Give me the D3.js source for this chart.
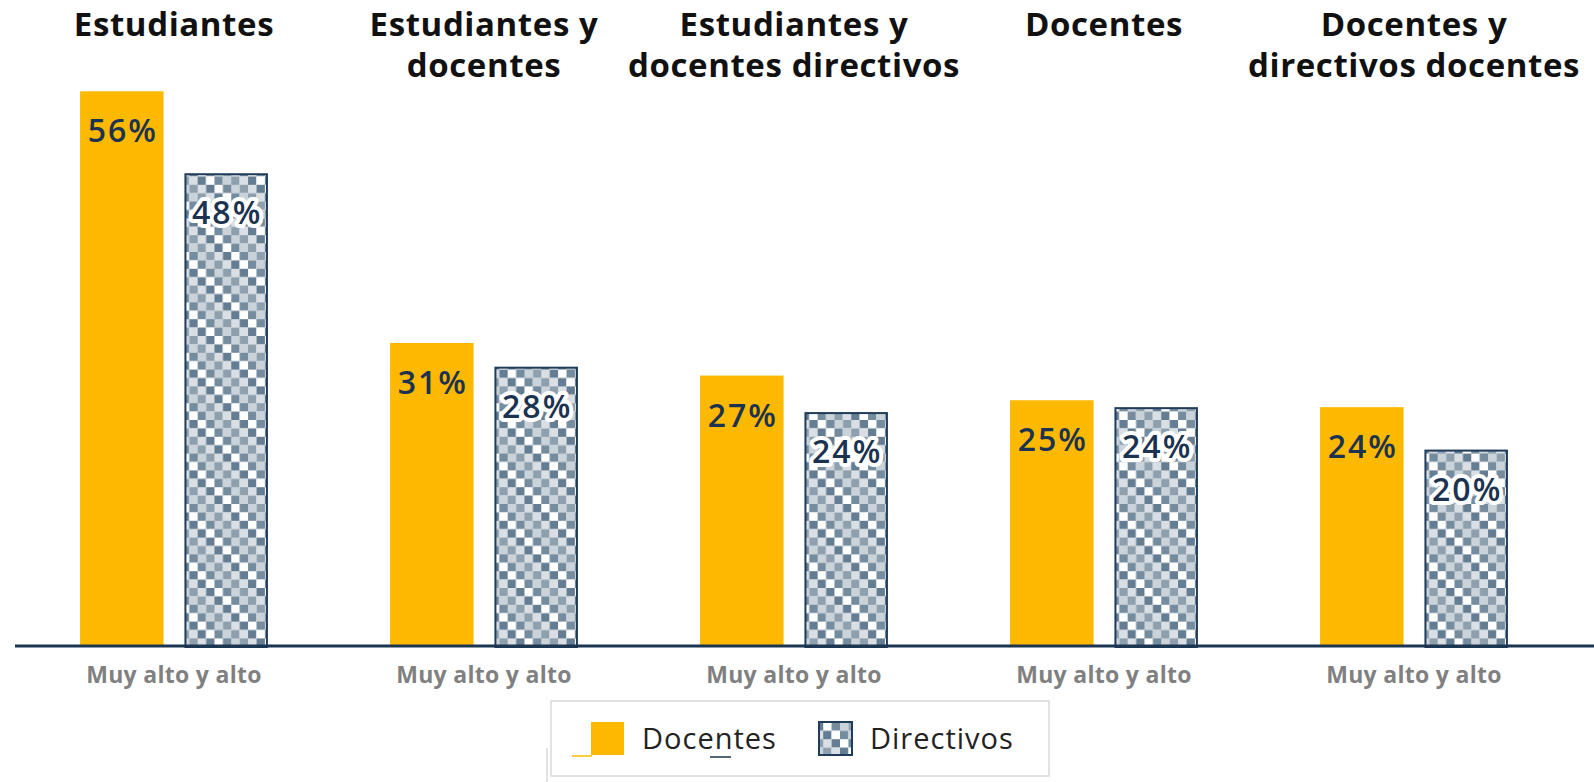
<!DOCTYPE html>
<html>
<head>
<meta charset="utf-8">
<script src="https://cdn.jsdelivr.net/npm/d3@7"></script>
<style>
	body { margin: 0; background: #fff; }
	svg { display: block; }
	.title { font-family: "Open Sans", sans-serif; font-weight: 700; font-size: 33px; fill: #111; letter-spacing: 0.6px; }
	.val { font-family: "Open Sans", sans-serif; font-weight: 600; font-size: 32px; fill: #1b3350; letter-spacing: 2px; }
	.cat text { font-family: "Open Sans", sans-serif; font-weight: 700; font-size: 23px; fill: #808080; letter-spacing: 0.3px; }
	.leg { font-family: "Open Sans", sans-serif; font-weight: 400; font-size: 29px; fill: #222; letter-spacing: 1px; }
</style>
</head>
<body>
<svg id="chart" width="1594" height="782"></svg>
<script>
// 데이터
var groups = ["Estudiantes", "Estudiantes y docentes", "Estudiantes y docentes directivos", "Docentes", "Docentes y directivos docentes"];
var titleLines = [["Estudiantes"], ["Estudiantes y", "docentes"], ["Estudiantes y", "docentes directivos"], ["Docentes"], ["Docentes y", "directivos docentes"]];
var category = "Muy alto y alto";
var series = ["Docentes", "Directivos"];
var docentes = [56.2, 30.7, 27.4, 24.9, 24.2];
var directivos = [47.9, 28.3, 23.7, 24.2, 19.9];

var svg = d3.select("#chart");
var yellow = "#fdb900";
var navy = "#1c3550";

// 체크 무늬 패턴
var cell = 8.4;
var darks = ["#3b5873", "#758b9e", "#4e6a84", "#8e9fae", "#41607a", "#657d92"];
var lights = ["#ffffff", "#e3e8ec", "#cbd3da", "#f4f5f6", "#d9dfe4", "#bcc6cf"];
var pat = svg.append("defs").append("pattern")
	.attr("id", "checker")
	.attr("patternUnits", "userSpaceOnUse")
	.attr("width", cell * 6).attr("height", cell * 6);
for (var r = 0; r < 6; r++) {
	for (var c = 0; c < 6; c++) {
		var k = (r * 5 + c * 7) % 6;
		pat.append("rect")
			.attr("x", c * cell).attr("y", r * cell)
			.attr("width", cell).attr("height", cell)
			.attr("fill", (r + c) % 2 ? darks[k] : lights[k]);
	}
}

// 스케일
var x0 = d3.scaleBand().domain(groups).range([19, 1569]).paddingInner(0.394).paddingOuter(0.197);
var x1 = d3.scaleBand().domain(series).range([0, x0.bandwidth()]).paddingInner(0.2);
var y = d3.scaleLinear().domain([0, 60]).range([646, 646 - 60 * 9.87]);
var fmt = d3.format(".0f");

var rows = groups.map(function(g, i) {
	return { group: g, lines: titleLines[i], vals: [docentes[i], directivos[i]] };
});

var g = svg.selectAll("g.grp")
	.data(rows)
	.enter().append("g")
	.attr("class", "grp")
	.attr("transform", function(d) { return "translate(" + x0(d.group) + ",0)"; });

g.selectAll("rect")
	.data(function(d) { return d.vals.map(function(v, j) { return { s: series[j], v: v }; }); })
	.enter().append("rect")
	.attr("x", function(d) { return x1(d.s) + (d.s == "Directivos" ? 1 : 0); })
	.attr("y", function(d) { return y(d.v) + (d.s == "Directivos" ? 1 : 0); })
	.attr("width", function(d) { return x1.bandwidth() - (d.s == "Directivos" ? 2 : 0); })
	.attr("height", function(d) { return y(0) - y(d.v); })
	.attr("fill", function(d) { return d.s == "Docentes" ? yellow : "url(#checker)"; })
	.attr("stroke", function(d) { return d.s == "Docentes" ? "none" : "#1f3d5a"; })
	.attr("stroke-width", 2);

// 값 라벨
g.selectAll("text.val")
	.data(function(d) { return d.vals.map(function(v, j) { return { s: series[j], v: v }; }); })
	.enter().append("text")
	.attr("class", "val")
	.attr("text-anchor", "middle")
	.attr("x", function(d) { return x1(d.s) + x1.bandwidth() / 2 + 1; })
	.attr("y", function(d) { return y(d.v) + 51; })
	.attr("stroke", function(d) { return d.s == "Directivos" ? "#fff" : "none"; })
	.attr("stroke-width", 8)
	.attr("stroke-linejoin", "round")
	.attr("paint-order", "stroke")
	.text(function(d) { return fmt(d.v) + "%"; });

// 제목
g.append("text")
	.attr("class", "title")
	.attr("text-anchor", "middle")
	.attr("x", x0.bandwidth() / 2)
	.attr("y", 36)
	.selectAll("tspan")
	.data(function(d) { return d.lines; })
	.enter().append("tspan")
	.attr("x", x0.bandwidth() / 2)
	.attr("dy", function(d, i) { return i ? 41 : 0; })
	.text(function(d) { return d; });

// 축
var axis = svg.append("g")
	.attr("class", "cat")
	.attr("transform", "translate(0,646)")
	.call(d3.axisBottom(x0).tickSize(0).tickFormat(function() { return category; }));
axis.select(".domain").remove();
axis.selectAll("text").attr("y", 37).attr("dy", 0);

svg.append("line")
	.attr("x1", 15).attr("x2", 1594)
	.attr("y1", 646).attr("y2", 646)
	.attr("stroke", navy).attr("stroke-width", 3);

// 범례
var leg = svg.append("g");
leg.append("rect")
	.attr("x", 551).attr("y", 701).attr("width", 498).attr("height", 75)
	.attr("fill", "#fff").attr("stroke", "#d9d9d9").attr("stroke-width", 1.5);
leg.append("line").attr("x1", 547).attr("x2", 547).attr("y1", 748).attr("y2", 782)
	.attr("stroke", "#d9d9d9").attr("stroke-width", 1.5);
leg.append("line").attr("x1", 572).attr("x2", 592).attr("y1", 756).attr("y2", 756)
	.attr("stroke", yellow).attr("stroke-width", 1.5);
leg.append("line").attr("x1", 710).attr("x2", 731).attr("y1", 757).attr("y2", 757)
	.attr("stroke", navy).attr("stroke-width", 1.5);

var legX = [591, 819];
series.forEach(function(s, i) {
	leg.append("rect")
		.attr("x", legX[i]).attr("y", 722).attr("width", 33).attr("height", 33)
		.attr("fill", i ? "url(#checker)" : yellow)
		.attr("stroke", i ? "#1f3d5a" : "none").attr("stroke-width", 2);
	leg.append("text")
		.attr("class", "leg")
		.attr("x", legX[i] + 51).attr("y", 749)
		.text(s);
});
</script>
</body>
</html>
